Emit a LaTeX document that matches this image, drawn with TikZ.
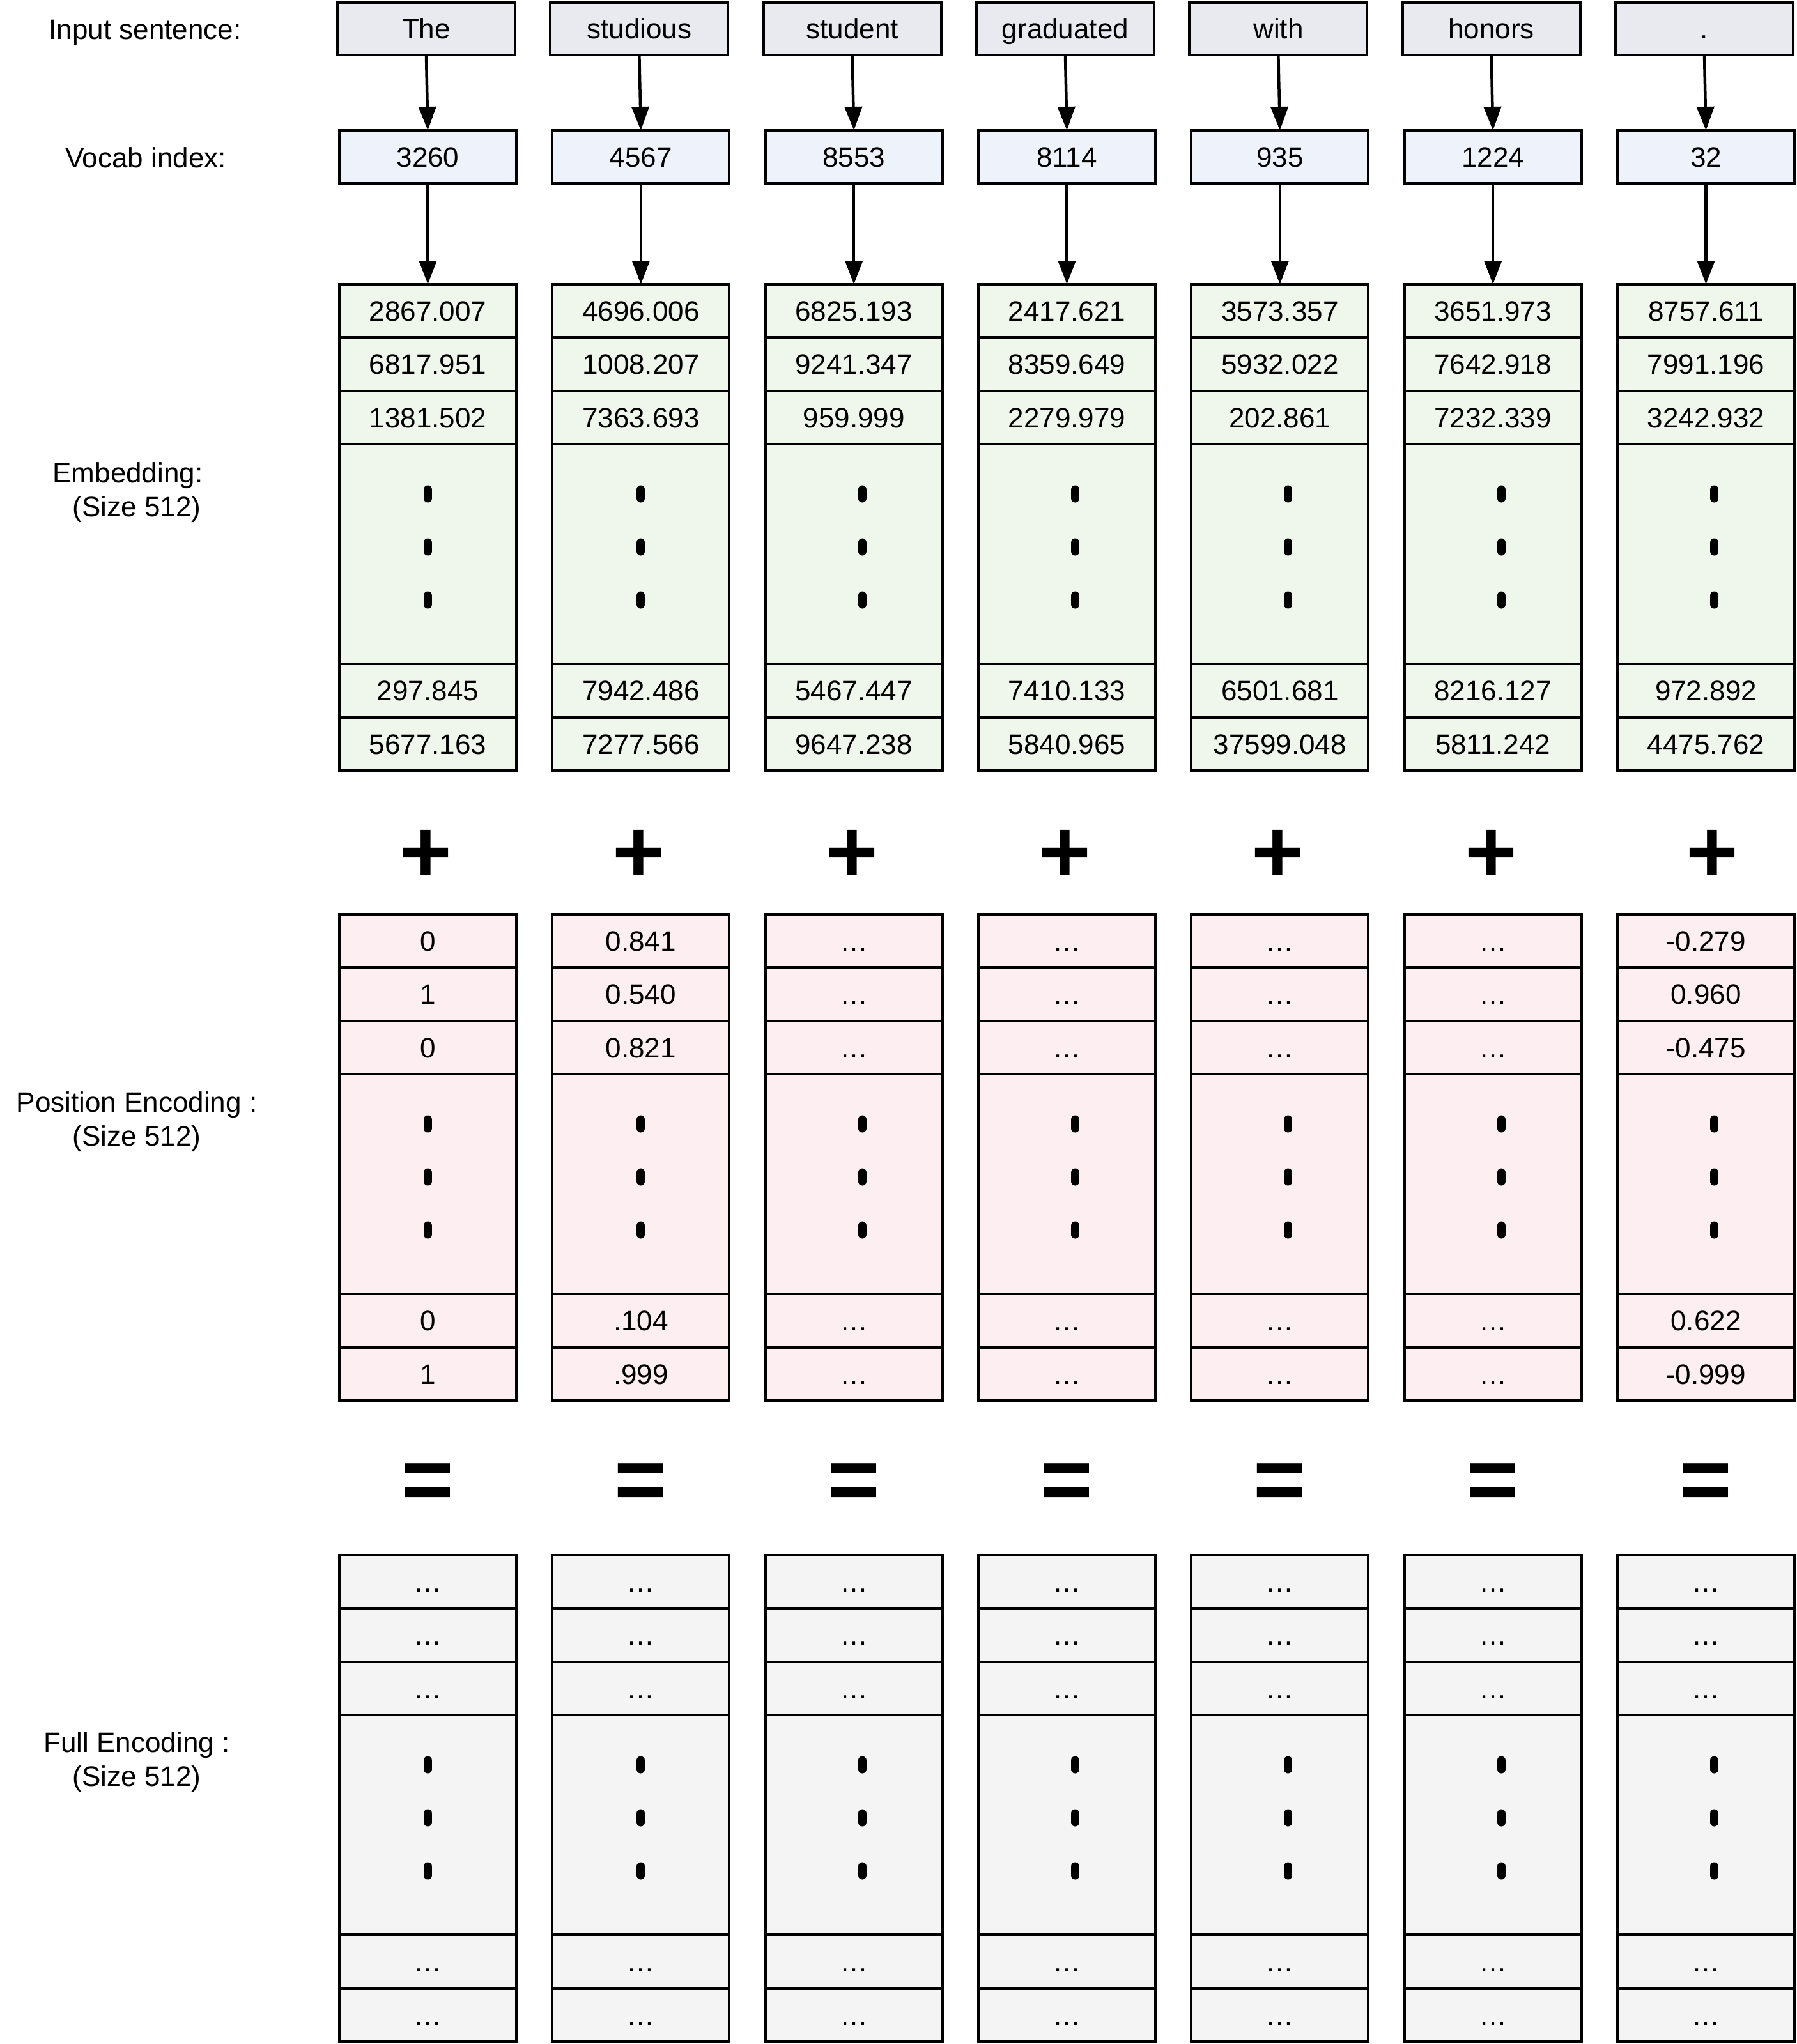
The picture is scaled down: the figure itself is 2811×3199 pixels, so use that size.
\documentclass[tikz,border=0pt]{standalone}
\usepackage{fontspec}
\setmainfont{Liberation Sans}
\usetikzlibrary{arrows.meta}
\definecolor{wordfill}{HTML}{E9EAF0}
\definecolor{vocfill}{HTML}{EEF2FB}
\definecolor{embfill}{HTML}{EFF7EC}
\definecolor{posfill}{HTML}{FDEEF1}
\definecolor{fullfill}{HTML}{F4F4F4}
\newcommand\drawblock[4]{%
 \foreach \a/\b/\c/\d/\e [count=\i] in {#4} {
   \pgfmathsetmacro\cx{669.5+333.333*(\i-1)}
   \pgfmathsetmacro\px{\cx+(\i>2)*13}
   \node[small, fill=#3] (#1-\i-1) at (\cx,#2+41.67) {\a};
   \node[small, fill=#3] (#1-\i-2) at (\cx,#2+125) {\b};
   \node[small, fill=#3] (#1-\i-3) at (\cx,#2+208.33) {\c};
   \node[big, fill=#3] (#1-\i-4) at (\cx,#2+422) {};
   \node[smallb, fill=#3] (#1-\i-5) at (\cx,#2+635.75) {\d};
   \node[smallb, fill=#3] (#1-\i-6) at (\cx,#2+719.25) {\e};
   \foreach \k in {-83,0,83} \draw[pill] (\px,#2+404+\k) -- (\px,#2+418+\k);
 }}
\begin{document}
\begin{tikzpicture}[x=1pt,y=-1pt,
 every node/.style={inner sep=0pt, outer sep=0pt, font=\fontsize{44}{53}\selectfont},
 box/.style={draw=black, line width=4pt, minimum width=277pt, text height=31.5pt, text depth=0pt},
 wordbox/.style={box, fill=wordfill, minimum width=278pt, minimum height=82pt},
 vocbox/.style={box, fill=vocfill, minimum height=83pt},
 small/.style={box, minimum height=83.33pt},
 smallb/.style={box, minimum height=83.5pt},
 big/.style={box, minimum height=344pt},
 pill/.style={line width=13pt, line cap=round},
 conn/.style={line width=4.5pt, -{Triangle[length=37pt,width=27pt]}},
 sidelabel/.style={align=center},
 op/.style={font=\fontsize{140}{150}\selectfont\bfseries}
]
\useasboundingbox (0,0) rectangle (2811,3199);
% row labels
\node[anchor=base] (lin) at (227,61) {Input sentence:};
\node[anchor=base] (lvo) at (228,262) {Vocab index:};
\node[sidelabel] (lem) at (214,771) {Embedding:\hspace*{28pt}\\(Size 512)};
\node[sidelabel] (lpo) at (214,1756) {Position Encoding :\\(Size 512)};
\node[sidelabel] (lfu) at (214,2758) {Full Encoding :\\(Size 512)};
% words
\foreach \w [count=\i] in {The,studious,student,graduated,with,honors,.} {
  \node[wordbox] (w\i) at ({667+333.333*(\i-1)},45) {\w};
}
% embedding, position, full blocks
\drawblock{e}{445}{embfill}{2867.007/6817.951/1381.502/297.845/5677.163,
 4696.006/1008.207/7363.693/7942.486/7277.566,
 6825.193/9241.347/959.999/5467.447/9647.238,
 2417.621/8359.649/2279.979/7410.133/5840.965,
 3573.357/5932.022/202.861/6501.681/37599.048,
 3651.973/7642.918/7232.339/8216.127/5811.242,
 8757.611/7991.196/3242.932/972.892/4475.762}
\drawblock{p}{1431}{posfill}{0/1/0/0/1,
 0.841/0.540/0.821/.104/.999,
 …/…/…/…/…, …/…/…/…/…, …/…/…/…/…, …/…/…/…/…,
 -0.279/0.960/-0.475/0.622/-0.999}
\drawblock{f}{2434}{fullfill}{…/…/…/…/…, …/…/…/…/…, …/…/…/…/…, …/…/…/…/…,
 …/…/…/…/…, …/…/…/…/…, …/…/…/…/…}
% vocab and arrows
\foreach \v [count=\i] in {3260,4567,8553,8114,935,1224,32} {
  \node[vocbox] (v\i) at ({669.5+333.333*(\i-1)},245.5) {\v};
  \draw[conn] (w\i.south) -- (v\i.north);
  \draw[conn] (v\i.south) -- (e-\i-1.north);
}
% operators
\foreach \i in {1,...,7} {
  \pgfmathsetmacro\cx{669.5+333.333*(\i-1)}
  \pgfmathsetmacro\ox{\cx+ifthenelse(\i==7,10,-3)}
  \node[op] (plus\i) at (\ox,1340) {+};
  \node[op] (eq\i) at (\cx,2327) {=};
}
\end{tikzpicture}
\end{document}
